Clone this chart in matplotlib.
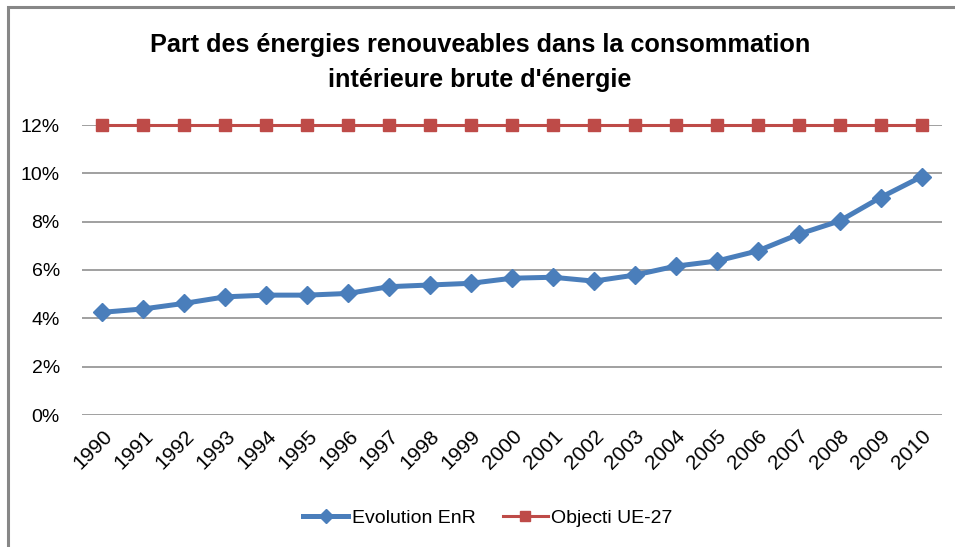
import matplotlib.pyplot as plt
from matplotlib.patches import Rectangle
from matplotlib.ticker import FuncFormatter, MultipleLocator

plt.rcParams['font.family'] = ['Liberation Sans Narrow', 'Liberation Sans', 'DejaVu Sans']

# données
annees = [str(a) for a in range(1990, 2011)]
evolution_enr = [4.25, 4.39, 4.62, 4.89, 4.96, 4.96, 5.03, 5.31, 5.38, 5.45,
                 5.66, 5.70, 5.54, 5.79, 6.16, 6.37, 6.79, 7.48, 8.03, 9.00, 9.86]
objectif_ue27 = [12.0] * len(annees)

W, H = 955, 547
fig = plt.figure(figsize=(W / 100, H / 100), dpi=100)

# cadre du graphique (coupé à droite et en bas comme l'original)
fig.patches.append(Rectangle((8 / W, -0.1), 1.2, 1 - 7 / H + 0.1, transform=fig.transFigure,
                             fill=False, ec='#878787', lw=2.2))

ax = fig.add_axes([82 / W, 1 - 415 / H, 860 / W, 290 / H])
x = list(range(len(annees)))

ax.plot(x, evolution_enr, color='#4A7EBB', lw=3.6, marker='D', ms=9,
        mec='#4A7EBB', label='Evolution EnR', zorder=3)
ax.plot(x, objectif_ue27, color='#BE4B48', lw=2.2, marker='s', ms=8.5,
        mec='#BE4B48', label='Objecti UE-27', zorder=3, clip_on=False)

ax.set_xlim(-0.5, len(annees) - 0.5)
ax.set_ylim(0, 12)
ax.yaxis.set_major_locator(MultipleLocator(2))
ax.yaxis.set_major_formatter(FuncFormatter(lambda v, p: f'{v:.0f}%'))
ax.grid(axis='y', color='#868686', lw=1.1)
ax.set_axisbelow(True)
for s in ax.spines.values():
    s.set_visible(False)
ax.tick_params(length=0, labelsize=14, pad=16)
ax.tick_params(axis='x', pad=8, labelsize=15)
ax.set_xticks(x)
ax.set_xticklabels(annees, rotation=45, ha='right', rotation_mode='anchor')

fig.text(480 / W, 1 - 45 / H, 'Part des énergies renouveables dans la consommation',
         ha='center', va='center', fontsize=18.2, weight='bold')
fig.text(480 / W, 1 - 80 / H, "intérieure brute d'énergie",
         ha='center', va='center', fontsize=18.2, weight='bold')

fig.legend(loc='center', bbox_to_anchor=(488 / W, 1 - 518 / H), ncol=2, frameon=False,
           fontsize=14, handlelength=2.3, columnspacing=1.4, handletextpad=0.2,
           markerscale=0.8)

fig.savefig('out.png', dpi=100)
